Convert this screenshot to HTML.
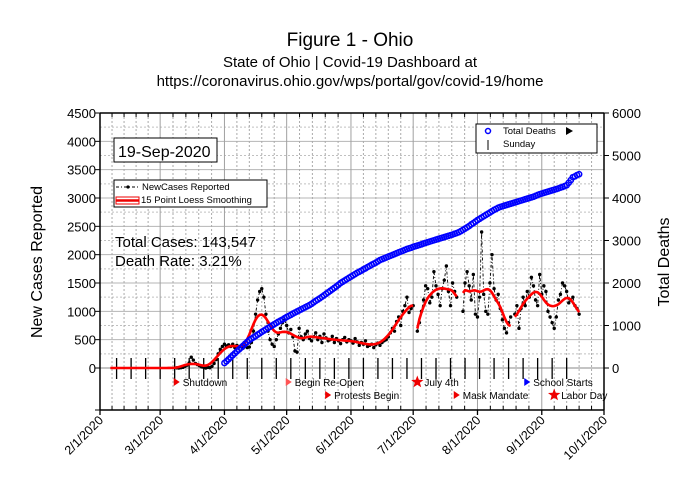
<!DOCTYPE html>
<html><head><meta charset="utf-8"><style>
html,body{margin:0;padding:0;background:#fff;}
svg{display:block;font-family:"Liberation Sans",Arial,sans-serif;}
</style></head><body>
<svg id="chart" width="700" height="500" viewBox="0 0 700 500">
<text x="350" y="46" font-size="19" text-anchor="middle">Figure 1 - Ohio</text>
<text x="350" y="67" font-size="15" text-anchor="middle">State of Ohio | Covid-19 Dashboard at</text>
<text x="350" y="86" font-size="15" text-anchor="middle">https://coronavirus.ohio.gov/wps/portal/gov/covid-19/home</text>
<g id="grid"></g>
<g id="marks"></g>
<g id="axes"></g>
<text transform="translate(42,262) rotate(-90)" font-size="16" text-anchor="middle">New Cases Reported</text>
<text transform="translate(669,262) rotate(-90)" font-size="16" text-anchor="middle">Total Deaths</text>
<g>
<rect x="114" y="138" width="103" height="24" fill="#fff" stroke="#000"/>
<text x="118" y="157" font-size="16">19-Sep-2020</text></g>
<g>
<rect x="114" y="180" width="153" height="27" fill="#fff" stroke="#000"/>
<line x1="116" y1="187" x2="140" y2="187" stroke="#000" stroke-dasharray="3,2,1,2"/>
<circle cx="128" cy="187" r="1.6"/>
<text x="142" y="190" font-size="9.5">NewCases Reported</text>
<rect x="116" y="197" width="23" height="7" fill="none" stroke="#e00" stroke-width="1"/>
<line x1="116" y1="200.5" x2="139" y2="200.5" stroke="#e00" stroke-width="2.5"/>
<text x="141" y="203" font-size="9.5">15 Point Loess Smoothing</text></g>
<text x="115" y="247" font-size="15">Total Cases: 143,547</text>
<text x="115" y="266" font-size="15">Death Rate:  3.21%</text>
<g>
<rect x="476" y="124" width="121" height="29" fill="#fff" stroke="#000"/>
<circle cx="488" cy="131" r="2.5" fill="none" stroke="#00f" stroke-width="1.5"/>
<text x="503" y="134" font-size="9.5">Total Deaths</text>
<path d="M566,127 L573,131 L566,135 Z" fill="#000"/>
<line x1="488" y1="140" x2="488" y2="150" stroke="#000"/>
<text x="503" y="147" font-size="9.5">Sunday</text></g>
<g id="events"></g>
</svg>
<script>
const NS="http://www.w3.org/2000/svg";
const monthLabels=["2/1/2020","3/1/2020","4/1/2020","5/1/2020","6/1/2020","7/1/2020","8/1/2020","9/1/2020","10/1/2020"];
const monthDays=[0,29,60,90,121,151,182,213,243];
const leftTicks=[0,500,1000,1500,2000,2500,3000,3500,4000,4500];
const rightTicks=[0,1000,2000,3000,4000,5000,6000];
const casesStart=5;
const cases=[0,0,0,0,0,0,0,0,0,0,0,0,0,0,0,0,0,0,0,0,0,0,0,0,0,0,0,0,0,0,0,0,
3,0,5,12,30,50,90,190,140,80,60,40,20,10,
0,10,5,30,80,
150,250,330,380,420,
390,410,380,420,360,400,370,390,350,380,360,370,
450,650,950,1200,1350,1400,1250,950,650,500,420,380,
500,600,700,800,850,750,620,680,550,300,280,
700,550,500,600,650,520,480,550,620,500,560,450,600,530,480,500,560,450,520,480,430,500,540,460,500,
480,440,520,460,400,450,420,480,380,400,420,360,410,440,400,
450,480,500,550,620,700,650,820,900,750,1000,1100,1250,980,1050,1100,
null,
650,800,1000,1200,1450,1400,1150,1250,1700,1450,1300,1100,1400,1550,1800,1350,1100,1500,1350,1250,
null,null,
1000,1500,1700,1450,1200,1650,950,900,1250,2400,1300,1000,950,1500,2000,
1400,1200,1300,1050,850,700,620,800,900,
null,
950,1100,700,1050,1250,1100,1350,1250,1600,1450,1200,1100,1650,
1300,1450,1350,1000,900,800,700,900,1200,1300,1500,1450,1350,1150,1200,1250,1100,1050,950];
const deathsStart=60;
const deaths=[118,160,205,250,300,345,390,435,480,525,570,615,660,
690,720,750,785,815,850,
880,910,940,970,1000,1030,1060,1090,1115,1140,1170,1200,
1225,1250,1280,1305,1330,1355,1380,1405,1430,1455,1480,
1510,1545,1580,1610,1640,1675,1710,1745,1780,1815,1850,1885,1920,1960,2000,
2030,2060,2090,2120,2150,
2180,2210,2240,2265,2290,2320,2345,2375,2400,2430,2455,2480,2510,2540,
2560,2580,2600,2620,2640,2660,2680,2700,2720,2740,2760,2780,2800,2815,2830,2850,
2865,2880,2895,2910,2930,2945,2960,2975,2990,3005,3020,3035,3050,3065,3080,3095,3110,3125,3140,3160,3175,3195,3220,
3250,3280,3310,3340,3380,3410,3445,3480,
3510,3540,3570,3600,3630,3660,3690,3720,3745,3770,3790,
3805,3820,3835,3850,3865,3880,3895,3910,3925,3940,3955,3970,3985,4000,4015,4030,4050,4070,4090,
4105,4120,4135,4150,4165,4180,4195,4210,4225,4245,4260,4280,4300,
4360,4420,4490,4510,4540,4560];
const sundayFirst=8, sundayLast=225;
const eventNames=["Shutdown","Begin Re-Open","Protests Begin","July 4th","Mask Mandate","School Starts","Labor Day"];
const eventDays=[37,91,110,153,172,206,219];
const eventRows=[0,0,1,0,1,0,1];
const eventShapes=["tri","tri","tri","star","tri","tri","star"];
const eventColors=["#e00","#f55","#e00","#e00","#e00","#00f","#e00"];

const X0=100,X1=604,YT=113,Y0=368,YB=410;
const xs=d=>X0+d*(X1-X0)/243;
const yL=v=>Y0-v*(Y0-YT)/4500;
const yR=v=>Y0-v*(Y0-YT)/6000;
function mk(tag,attrs,parent){const e=document.createElementNS(NS,tag);for(const k in attrs)e.setAttribute(k,attrs[k]);parent.appendChild(e);return e;}
const grid=document.getElementById('grid'),marks=document.getElementById('marks'),axes=document.getElementById('axes'),events=document.getElementById('events');

for(let v=250;v<=4500;v+=250){const l=mk('line',{x1:X0,x2:X1,y1:yL(v),y2:yL(v),stroke:v%500===0?'#b4b4b4':'#c0c0c0','stroke-dasharray':v%500===0?'':'2,2'},grid);

}
for(let i=0;i<monthDays.length-1;i++){const a=monthDays[i],b=monthDays[i+1];
 if(i>0){const l=mk('line',{x1:xs(a),x2:xs(a),y1:YT,y2:YB,stroke:'#a0a0a0'},grid);
 
 }
 for(let j=1;j<5;j++){const x=xs(a+(b-a)*j/5);const l=mk('line',{x1:x,x2:x,y1:YT,y2:YB,stroke:'#aaa','stroke-dasharray':'2,2'},grid);
 
 
 mk('line',{x1:x,x2:x,y1:YT,y2:YT+4,stroke:'#000'},axes);
 mk('line',{x1:x,x2:x,y1:YB,y2:YB-4,stroke:'#000'},axes);}
}
mk('line',{x1:X0,x2:X1,y1:Y0,y2:Y0,stroke:'#888'},grid);

for(let d=sundayFirst;d<=sundayLast;d+=7){const l=mk('line',{x1:xs(d),x2:xs(d),y1:Y0-10,y2:Y0+11,stroke:'#000','stroke-width':1.3},marks);

}

let segs=[],cur=[];
cases.forEach((v,i)=>{if(v===null){if(cur.length)segs.push(cur);cur=[];}else cur.push([casesStart+i,v]);});
if(cur.length)segs.push(cur);
segs.forEach(s=>{const p=mk('polyline',{points:s.map(q=>xs(q[0])+','+yL(q[1])).join(' '),fill:'none',stroke:'#000','stroke-width':0.9,'stroke-dasharray':'3,2,1,2'},marks);

});
cases.forEach((v,i)=>{if(v===null||casesStart+i<37)return;const c=mk('circle',{cx:xs(casesStart+i),cy:yL(v),r:1.7,fill:'#000'},marks);

});

function loess(s){const n=s.length,out=[];const h=7;
 for(let i=0;i<n;i++){let lo=Math.max(0,i-h),hi=Math.min(n-1,i+h);
  const dmax=Math.max(i-lo,hi-i)+1;let sw=0,sx=0,sy=0,sxx=0,sxy=0;
  for(let j=lo;j<=hi;j++){const u=Math.abs(j-i)/dmax;const w=Math.pow(1-u*u*u,3);const x=j-i,y=s[j][1];sw+=w;sx+=w*x;sy+=w*y;sxx+=w*x*x;sxy+=w*x*y;}
  const den=sw*sxx-sx*sx;const b=den?(sw*sxy-sx*sy)/den:0;const a=(sy-b*sx)/sw;out.push([s[i][0],Math.max(0,a)]);}
 return out;}
segs.forEach(s=>{const sm=loess(s);const p=mk('polyline',{points:sm.map(q=>xs(q[0])+','+yL(q[1])).join(' '),fill:'none',stroke:'#f00','stroke-width':2.6,'stroke-linejoin':'round'},marks);

});

deaths.forEach((v,i)=>{const c=mk('circle',{cx:xs(deathsStart+i),cy:yR(v),r:2.6,fill:'none',stroke:'#00f','stroke-width':1.5},marks);

});

mk('line',{x1:X0,x2:X0,y1:YT,y2:YB,stroke:'#000','stroke-width':1.5},axes);
mk('line',{x1:X1,x2:X1,y1:YT,y2:YB,stroke:'#000','stroke-width':1.5},axes);
mk('line',{x1:X0,x2:X1,y1:YT,y2:YT,stroke:'#000','stroke-width':1.5},axes);
mk('line',{x1:X0,x2:X1,y1:YB,y2:YB,stroke:'#000','stroke-width':1.5},axes);
leftTicks.forEach(v=>{mk('line',{x1:X0-5,x2:X0,y1:yL(v),y2:yL(v),stroke:'#000'},axes);
 const t=mk('text',{x:X0-4,y:yL(v)+5,'font-size':13,'text-anchor':'end'},axes);t.textContent=v;
 
 });
mk('line',{x1:X0-5,x2:X0,y1:YB,y2:YB,stroke:'#000'},axes);
rightTicks.forEach(v=>{mk('line',{x1:X1,x2:X1+5,y1:yR(v),y2:yR(v),stroke:'#000'},axes);
 const t=mk('text',{x:X1+8,y:yR(v)+5,'font-size':13},axes);t.textContent=v;
 
 });
monthDays.forEach((d,i)=>{const x=xs(d);mk('line',{x1:x,x2:x,y1:YB,y2:YB+5,stroke:'#000','stroke-width':1.3},axes);
 const t=mk('text',{x:x+4,y:421,'font-size':12.5,'text-anchor':'end',transform:`rotate(-45 ${x+4} 421)`},axes);t.textContent=monthLabels[i];
 
 });

function star(cx,cy,r){let p=[];for(let k=0;k<10;k++){const a=-Math.PI/2+k*Math.PI/5;const rr=k%2?r*0.42:r;p.push((cx+rr*Math.cos(a)).toFixed(1)+','+(cy+rr*Math.sin(a)).toFixed(1));}return p.join(' ');}
eventNames.forEach((n,i)=>{const x=xs(eventDays[i]);const y=eventRows[i]?396:383;
 let m;
 if(eventShapes[i]==='tri')m=mk('path',{d:`M${x-3},${y-5} L${x+3},${y-1} L${x-3},${y+3} Z`,fill:eventColors[i]},events);
 else m=mk('polygon',{points:star(x,y-1,6.5),fill:eventColors[i]},events);
 
 
 const t=mk('text',{x:x+(eventShapes[i]==='star'?7:6),y:y+3,'font-size':10},events);t.textContent=n;
 
 });
</script>
</body></html>
